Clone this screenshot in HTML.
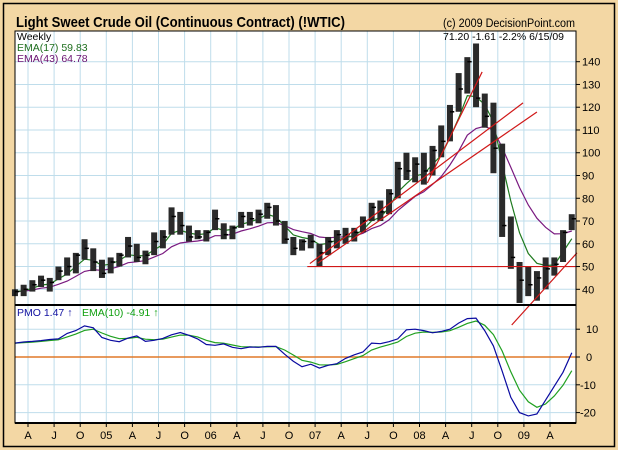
<!DOCTYPE html>
<html><head><meta charset="utf-8"><style>
html,body{margin:0;padding:0;background:#F3D7A4;}
svg{display:block;font-family:"Liberation Sans",Arial,sans-serif;}
</style></head><body>
<svg id="chart" width="618" height="450" viewBox="0 0 618 450" xmlns="http://www.w3.org/2000/svg">
<rect x="3.5" y="3.5" width="611" height="443" fill="#F3D7A4" stroke="#000" stroke-width="1.5"/>
<text x="16" y="27" font-size="15" font-weight="bold" textLength="329" lengthAdjust="spacingAndGlyphs">Light Sweet Crude Oil (Continuous Contract) (!WTIC)</text>
<text x="443" y="27" font-size="11.5" textLength="132" lengthAdjust="spacingAndGlyphs">(c) 2009 DecisionPoint.com</text>
<rect x="15" y="31" width="561" height="274" fill="#fff"/>
<rect x="15" y="305" width="561" height="118" fill="#fff"/>
<g id="grid"></g>
<g id="price"></g>
<g id="pmo"></g>
<g id="annot"></g>
<rect x="15" y="31" width="561" height="274" fill="none" stroke="#000" stroke-width="1"/>
<rect x="15" y="305" width="561" height="118" fill="none" stroke="#000" stroke-width="1"/>
<line x1="15" y1="305" x2="576" y2="305" stroke="#000" stroke-width="2"/>
<line x1="15" y1="423" x2="576" y2="423" stroke="#000" stroke-width="2"/>
<text x="17" y="40" font-size="10.5">Weekly</text>
<text x="17" y="51" font-size="10.5" fill="#1E6E1E">EMA(17) 59.83</text>
<text x="17" y="62" font-size="10.5" fill="#6A1070">EMA(43) 64.78</text>
<text x="443" y="40" font-size="10.5" textLength="121" lengthAdjust="spacingAndGlyphs">71.20  -1.61  -2.2%  6/15/09</text>
<text x="17" y="316" font-size="10.5" fill="#1010A0">PMO  1.47 ↑</text>
<text x="82" y="316" font-size="10.5" fill="#10A010">EMA(10)  -4.91 ↑</text>
<g id="axes"></g>
</svg>
<script>
// ---- data (monthly, Feb 2004 .. Jun 2009) ----
const startMonth = -2; // months relative to Apr 2004
const highs  = [40,42,44,46,45,50,54,56,62,58,53,54,56,63,60,57,65,66,76,74,68,66,66,75,69,68,74,74,75,78,77,70,63,62,64,60,63,66,67,67,72,78,79,84,96,100,98,100,103,112,121,135,142,148,126,122,104,72,52,50,48,54,54,66,73];
const lows   = [37,37,39,41,39,44,46,47,53,48,45,47,50,54,52,51,55,58,64,64,61,62,61,66,62,62,67,68,69,71,68,60,55,57,58,50,55,58,60,61,65,70,70,73,80,88,87,86,90,98,105,118,126,120,111,91,63,49,34,37,35,40,46,52,66];
const closes = [39,40,42,44,43,48,50,55,58,52,47,52,55,59,54,55,61,63,72,68,63,63,65,71,64,67,72,71,73,76,70,62,58,61,61,56,61,64,64,65,70,76,74,82,93,92,95,92,101,105,118,128,140,124,116,102,68,54,44,42,45,49,51,65,71];
const pmoValues = [5.0,5.4,5.6,5.9,6.3,6.5,8.5,9.5,11.2,10.5,7.0,6.0,5.5,6.8,7.6,5.6,6.0,6.7,8.0,8.8,7.8,6.5,4.5,4.2,4.7,3.5,3.0,3.6,3.5,3.8,3.8,1.0,-1.5,-3.5,-2.6,-4.0,-3.0,-2.4,-0.5,0.8,1.8,5.0,4.8,5.5,6.5,9.8,10.0,9.5,8.7,9.2,10.0,12.2,13.8,14.0,9.5,4.0,-5.0,-14.5,-20.0,-21.2,-20.5,-15.5,-10.5,-5.5,1.5];
const priceTicks = [40,50,60,70,80,90,100,110,120,130,140];
const pmoTicks = [10,0,-10,-20];
const xLabels = ["A","J","O","05","A","J","O","06","A","J","O","07","A","J","O","08","A","J","O","09","A"];
// trendlines: [month1, price1, month2, price2]
const trendlines = [[32.1,50,63,50],[32.4,51.3,56.9,121.9],[33.3,51.5,58.5,117.9],[45.9,86.7,52.2,135.5],[55.6,24.3,63.1,56]];

const NS="http://www.w3.org/2000/svg";
function xm(m){return 28+m*8.7;}
function yp(p){return 61.7+(140-p)*2.276;}
function yq(v){return 357-v*2.78;}
function mk(tag,attrs,parent){const e=document.createElementNS(NS,tag);for(const k in attrs)e.setAttribute(k,attrs[k]);parent.appendChild(e);return e;}
function ema(arr,a){const out=[];let e=arr[0];arr.forEach((v,i)=>{e=i===0?v:e+a*(v-e);out.push(e);});return out;}

const grid=document.getElementById('grid');
xLabels.forEach((l,i)=>{
  const g=mk('line',{x1:xm(i*3),x2:xm(i*3),y1:31,y2:423,stroke:'#BFDDEB','stroke-width':1},grid);
  
  
});
priceTicks.forEach(p=>{
  const g=mk('line',{x1:15,x2:576,y1:yp(p),y2:yp(p),stroke:'#BFDDEB','stroke-width':1},grid);
  
  
});
pmoTicks.forEach(v=>{
  const g=mk('line',{x1:15,x2:576,y1:yq(v),y2:yq(v),stroke:v===0?'#E07828':'#BFDDEB','stroke-width':v===0?1.5:1},grid);
  
  
});

function poly(vals,yf,color,name,parent){
  const pts=vals.map((v,i)=>xm(startMonth+i+0.5).toFixed(1)+','+yf(v).toFixed(1)).join(' ');
  const p=mk('polyline',{points:pts,fill:'none',stroke:color,'stroke-width':1.2},parent);
  
  
}
const price=document.getElementById('price');
poly(ema(closes,0.18),yp,'#7A1A80','ema43-line',price);
poly(ema(closes,0.4),yp,'#1E7A1E','ema17-line',price);
// price bars (drawn as dense bar clusters)
closes.forEach((c,i)=>{
  const cx=xm(startMonth+i+0.5);
  const b=mk('rect',{x:cx-3,y:yp(highs[i]),width:6,height:yp(lows[i])-yp(highs[i]),fill:'#2a2a2a'},price);
  
  
  const t=mk('line',{x1:cx,x2:cx+4.3,y1:yp(c),y2:yp(c),stroke:'#000','stroke-width':1.5},price);
  
  
});

const pmo=document.getElementById('pmo');
poly(ema(pmoValues,0.45),yq,'#20A020','pmo-signal-line',pmo);
poly(pmoValues,yq,'#0A0AA0','pmo-line',pmo);

const annot=document.getElementById('annot');
trendlines.forEach(t=>{
  const l=mk('line',{x1:xm(t[0]),y1:yp(t[1]),x2:xm(t[2]),y2:yp(t[3]),stroke:'#D01818','stroke-width':1.2},annot);
  
  
});

const axes=document.getElementById('axes');
priceTicks.forEach(p=>{
  const tk=mk('line',{x1:576,x2:580,y1:yp(p),y2:yp(p),stroke:'#000'},axes);
  
  
  const t=mk('text',{x:582,y:yp(p)+4,'font-size':11},axes);
  t.textContent=p;
  
  
});
pmoTicks.forEach(v=>{
  const tk=mk('line',{x1:576,x2:580,y1:yq(v),y2:yq(v),stroke:'#000'},axes);
  
  
  const t=mk('text',{x:v<0?580:586,y:yq(v)+4,'font-size':11},axes);
  t.textContent=v;
  
  
});
xLabels.forEach((l,i)=>{
  const tk=mk('line',{x1:xm(i*3),x2:xm(i*3),y1:423,y2:427,stroke:'#000'},axes);
  
  
  const t=mk('text',{x:xm(i*3),y:439,'font-size':11,'text-anchor':'middle'},axes);
  t.textContent=l;
  
  
});
</script>
</body></html>
